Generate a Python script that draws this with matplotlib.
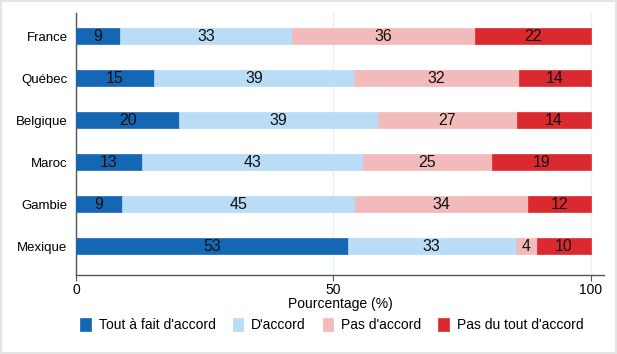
import numpy as np
import matplotlib.pyplot as plt

plt.rcParams['font.family'] = ['Liberation Sans', 'DejaVu Sans']

countries = ["France", "Québec", "Belgique", "Maroc", "Gambie", "Mexique"]
categories = ["Tout à fait d'accord", "D'accord", "Pas d'accord", "Pas du tout d'accord"]
colors = ["#1667b3", "#b9dcf7", "#f3babb", "#db2a2f"]

tout_a_fait = [8.6, 15.1, 20.1, 12.9, 8.9, 52.8]
d_accord = [33.3, 39.0, 38.6, 42.8, 45.3, 32.6]
pas_d_accord = [35.7, 31.9, 26.9, 25.1, 33.7, 4.2]
pas_du_tout = [22.4, 14.0, 14.4, 19.2, 12.1, 10.4]

series = [tout_a_fait, d_accord, pas_d_accord, pas_du_tout]

fig = plt.figure(figsize=(6.17, 3.54), dpi=100)
fig.patch.set_edgecolor("#e4e4e4")
fig.patch.set_linewidth(1.5)
ax = fig.add_axes([0.123, 0.223, 0.856, 0.740])

y = np.arange(len(countries))
left = np.zeros(len(countries))
for vals, col, lab in zip(series, colors, categories):
    vals = np.array(vals)
    ax.barh(y, vals, left=left, height=0.38, color=col, label=lab,
            edgecolor=col, linewidth=0.5, zorder=3)
    for yi, l, v in zip(y, left, vals):
        ax.text(l + v / 2, yi, f"{v:.0f}", ha="center", va="center",
                fontsize=11.5, color="#111111", zorder=4)
    left += vals

ax.set_xlim(0, 102.6)
ax.set_ylim(5.69, -0.55)
ax.set_yticks(y)
ax.set_yticklabels(countries, fontsize=9.5)
ax.set_xticks([0, 50, 100])
ax.tick_params(axis="y", length=0, pad=6)
ax.tick_params(axis="x", length=4, color="#555555", labelsize=10, pad=2)
ax.xaxis.grid(True, color="#eaf1f4", linewidth=1, zorder=0)
ax.set_xlabel("Pourcentage (%)", fontsize=10, labelpad=0)

for s in ["top", "right"]:
    ax.spines[s].set_visible(False)
for s in ["left", "bottom"]:
    ax.spines[s].set_color("#555555")
    ax.spines[s].set_linewidth(1)

fig.legend(loc="center", ncol=4, frameon=False, fontsize=10,
           bbox_to_anchor=(0.538, 0.082), handlelength=0.75, handleheight=1.1,
           columnspacing=1.2, handletextpad=0.6)

fig.savefig("out.png", dpi=100, facecolor="white", edgecolor=fig.patch.get_edgecolor())
